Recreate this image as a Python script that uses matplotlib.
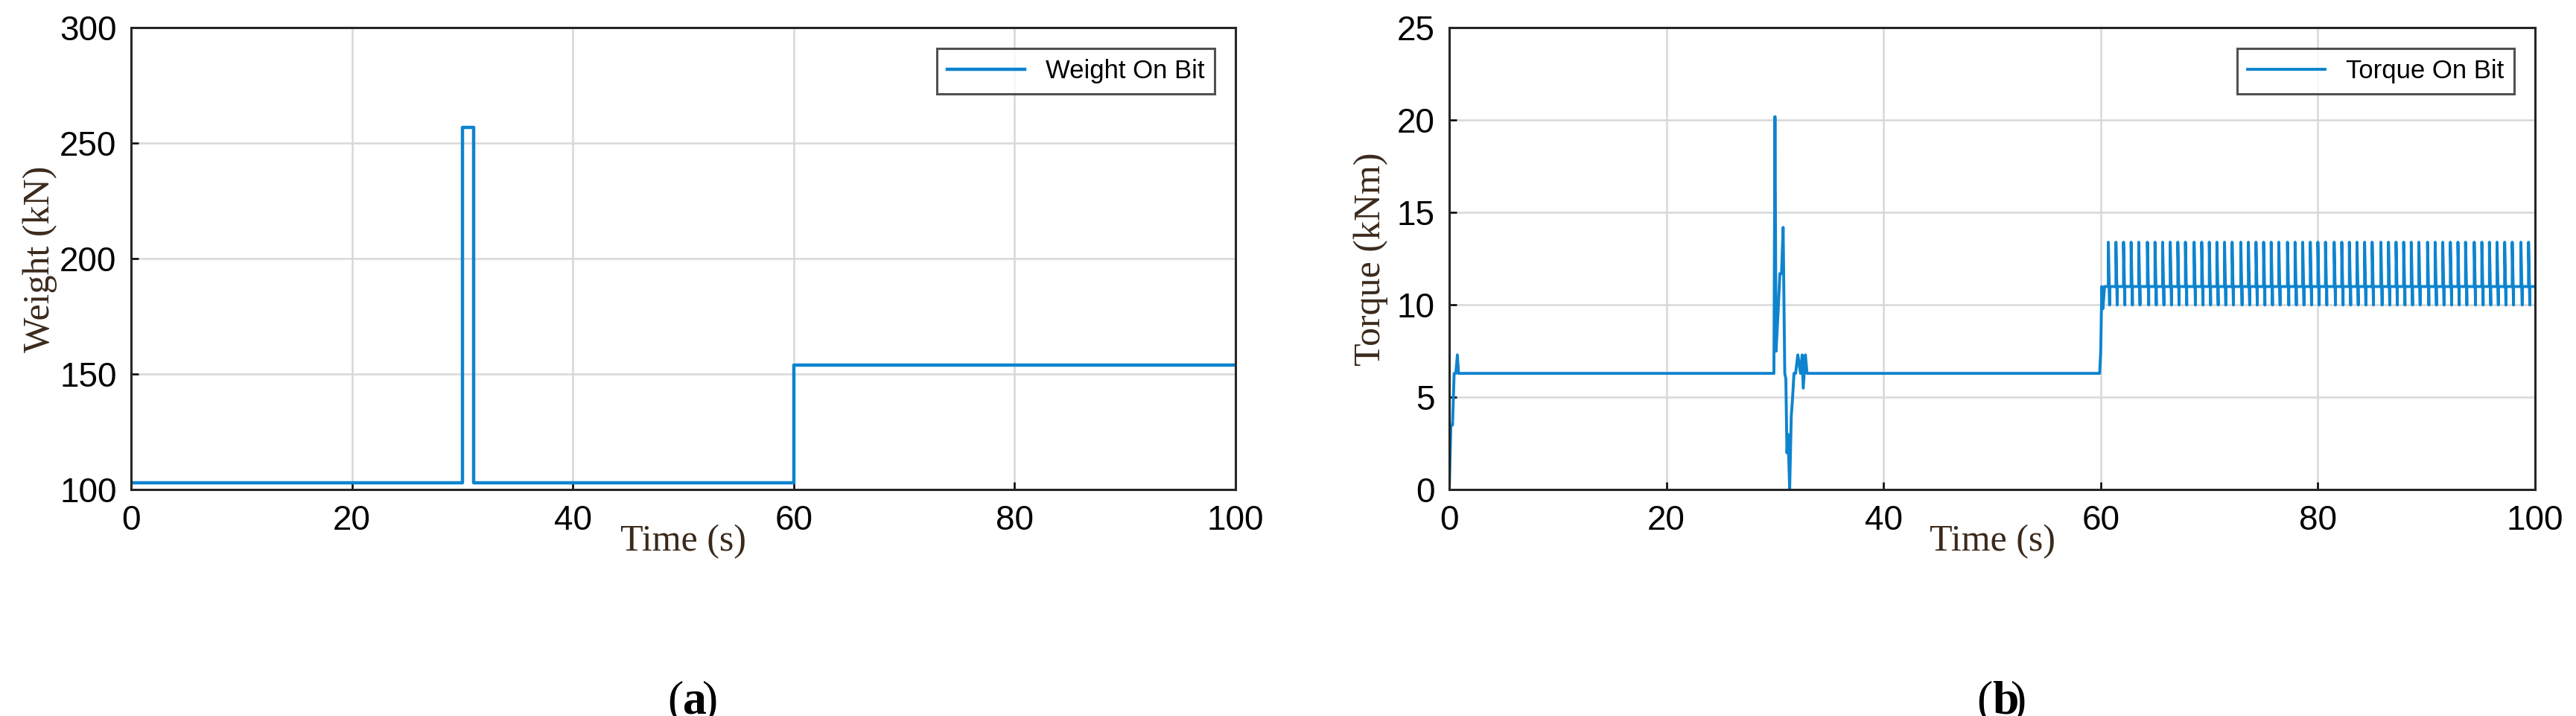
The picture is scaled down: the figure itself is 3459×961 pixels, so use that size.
import matplotlib.pyplot as plt

# Weight on bit (kN), step samples
wob_t = [0, 30.0, 30.0, 31.0, 31.0, 60.0, 60.0, 100]
wob_v = [103, 103, 257, 257, 103, 103, 154, 154]

# Torque on bit (kNm), transient part
tob_t = [0, 0.15, 0.3, 0.45, 0.6, 0.75, 0.85, 1.0, 29.9, 30.0, 30.1, 30.3, 30.45, 30.6, 30.75,
         30.9, 31.0, 31.1, 31.2, 31.35, 31.5, 31.6, 31.75, 31.9, 32.1, 32.35, 32.5, 32.6,
         32.8, 32.95, 33.1, 59.9, 60.0, 60.1, 60.2, 60.35, 60.5]
tob_v = [0, 3.5, 3.5, 6.3, 6.3, 7.3, 6.3, 6.3, 6.3, 20.2, 7.5, 9.8, 11.7, 11.7, 14.2,
         6.3, 6.0, 2.0, 3.0, 0.0, 4.0, 4.8, 6.3, 6.3, 7.3, 6.3, 7.3, 5.5,
         7.3, 6.3, 6.3, 6.3, 7.5, 11.0, 9.8, 11.0, 11.0]
# stick-slip spikes after 60 s
spike_t = [60.7, 61.4, 62.1, 62.8, 63.5, 64.3, 65.0, 65.7, 66.4, 67.1, 67.8, 68.6, 69.3,
           70.0, 70.7, 71.4, 72.1, 72.9, 73.6, 74.3, 75.0, 75.7, 76.4, 77.2, 77.9, 78.6,
           79.3, 80.0, 80.7, 81.5, 82.2, 82.9, 83.6, 84.3, 85.0, 85.8, 86.5, 87.2, 87.9,
           88.6, 89.3, 90.1, 90.8, 91.5, 92.2, 92.9, 93.6, 94.4, 95.1, 95.8, 96.5, 97.2,
           97.9, 98.7, 99.4]
spike_hi = 13.4
spike_lo = 10.0
spike_mid = 11.0

tt = list(tob_t)
tv = list(tob_v)
for s in spike_t:
    tt += [s, s, s + 0.12, s + 0.12, s + 0.3]
    tv += [spike_mid, spike_hi, spike_lo, spike_mid, spike_mid]
tt.append(100)
tv.append(spike_mid)

line_c = '#0e84cf'
tick_font = {'family': 'Liberation Sans', 'size': 33}
lab_font = {'family': 'Liberation Serif', 'size': 36, 'color': '#3b2a1c'}

fig = plt.figure(figsize=(34.59, 9.61), dpi=100)
ax1 = fig.add_axes([0.0509, 0.316, 0.4287, 0.645])
ax2 = fig.add_axes([0.5626, 0.316, 0.4215, 0.645])

ax1.plot(wob_t, wob_v, color=line_c, lw=3.2, label='Weight On Bit')
ax1.set_ylim(100, 300)
ax1.set_yticks([100, 150, 200, 250, 300])
ax1.set_ylabel('Weight (kN)', fontdict=lab_font, labelpad=2)

ax2.plot(tt, tv, color=line_c, lw=2.8, label='Torque On Bit')
ax2.set_ylim(0, 25)
ax2.set_yticks([0, 5, 10, 15, 20, 25])
ax2.set_ylabel('Torque (kNm)', fontdict=lab_font, labelpad=8)

for ax, tag in [(ax1, 'a'), (ax2, 'b')]:
    ax.set_xlim(0, 100)
    ax.set_xticks([0, 20, 40, 60, 80, 100])
    ax.grid(True, color='#d8d8d8', lw=1.8)
    ax.tick_params(direction='in', length=7, width=1.8, pad=14)
    for lab in ax.get_xticklabels() + ax.get_yticklabels():
        lab.set_fontfamily(tick_font['family'])
        lab.set_fontsize(tick_font['size'])
    for sp in ax.spines.values():
        sp.set_linewidth(2.2)
        sp.set_color('#262626')
    ax.set_xlabel('Time (s)', fontdict=lab_font, labelpad=-12)
    leg = ax.legend(loc='upper right', fancybox=False, edgecolor='#262626',
                    prop={'family': 'Liberation Sans', 'size': 25}, borderaxespad=0.8,
                    handlelength=3)
    leg.get_frame().set_linewidth(2.2)
    ax.text(0.5, -0.46, '(', transform=ax.transAxes, ha='right', va='center',
            fontsize=46, family='Liberation Serif')
    ax.text(0.5, -0.46, tag, transform=ax.transAxes, ha='left', va='center',
            fontsize=46, family='Liberation Serif', fontweight='bold')
    ax.text(0.5 + 0.017, -0.46, ')', transform=ax.transAxes, ha='left', va='center',
            fontsize=46, family='Liberation Serif')

fig.savefig('out.png', dpi=100)
